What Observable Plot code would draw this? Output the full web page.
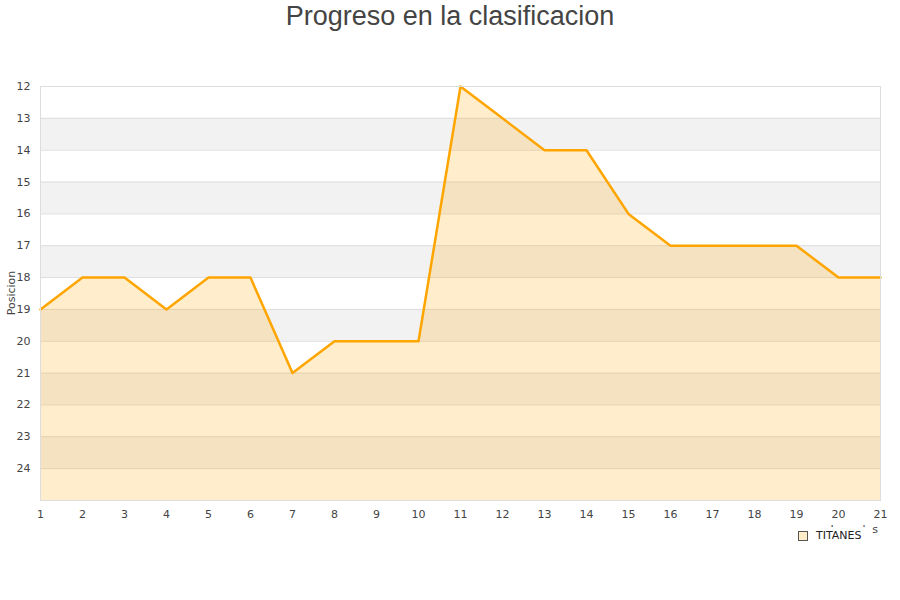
<!DOCTYPE html>
<html>
<head>
<meta charset="utf-8">
<script src="https://cdn.jsdelivr.net/npm/d3@7"></script>
<script src="https://cdn.jsdelivr.net/npm/@observablehq/plot@0.6"></script>
<style>
  html, body { margin: 0; padding: 0; background: #fff; }
  #wrap { position: relative; width: 900px; height: 600px; }
  #title { position: absolute; left: 0; top: 0; width: 900px; text-align: center;
    font-family: "Liberation Sans", Arial, sans-serif; font-size: 27px; color: #444; line-height: 32px; }
  #chart { position: absolute; left: 0; top: 40px; }
  .axis-title { position: absolute; font-family: "DejaVu Sans", sans-serif; font-size: 11px; color: #444; white-space: nowrap; }
  #ylabel { left: 11px; top: 293px; transform: translate(-50%, -50%) rotate(-90deg); }
  #xlabel { right: 22px; top: 523px; }
  #legend { position: absolute; left: 792px; top: 527px; background: #fff; padding: 2px 10px 2px 6px;
    font-family: "DejaVu Sans", sans-serif; font-size: 11px; color: #222; display: flex; align-items: center; }
  #legend .sw { width: 8px; height: 8px; border: 1px solid #555; background: #ffecc9; margin-right: 8px; }
</style>
</head>
<body>
<div id="wrap">
  <div id="title">Progreso en la clasificacion</div>
  <div id="chart"></div>
  <div class="axis-title" id="ylabel">Posicion</div>
  <div class="axis-title" id="xlabel">Jornadas</div>
  <div id="legend"><span class="sw"></span><span>TITANES</span></div>
</div>
<script>
// Jornada number and league position after each round
const jornadas = [1, 2, 3, 4, 5, 6, 7, 8, 9, 10, 11, 12, 13, 14, 15, 16, 17, 18, 19, 20, 21];
const posiciones = [19, 18, 18, 19, 18, 18, 21, 20, 20, 20, 12, 13, 14, 14, 16, 17, 17, 17, 17, 18, 18];
const yTicks = [12, 13, 14, 15, 16, 17, 18, 19, 20, 21, 22, 23, 24];
const equipo = "TITANES";

const data = jornadas.map((j, i) => ({jornada: j, posicion: posiciones[i], equipo}));
// shaded bands between alternate position ticks
const bandas = yTicks.filter(t => t % 2 === 1).map(t => ({y1: t, y2: t + 1}));

const chart = Plot.plot({
  width: 900,
  height: 560,
  marginTop: 46,
  marginBottom: 100,
  marginLeft: 40,
  marginRight: 20,
  style: {fontFamily: "DejaVu Sans, sans-serif", fontSize: "11px", color: "#444", background: "#fff"},
  x: {domain: [1, 21], ticks: jornadas, tickSize: 0, tickPadding: 10, label: null},
  y: {domain: [25, 12], ticks: yTicks, tickSize: 0, tickPadding: 10, label: null},
  marks: [
    Plot.rectY(bandas, {x1: 1, x2: 21, y1: "y1", y2: "y2", fill: "#f2f2f2"}),
    Plot.ruleY(yTicks, {stroke: "#dddddd", strokeWidth: 1}),
    Plot.areaY(data, {x: "jornada", y1: 25, y2: "posicion", fill: "#ffa500", fillOpacity: 0.2}),
    Plot.lineY(data, {x: "jornada", y: "posicion", stroke: "#ffa500", strokeWidth: 2.5}),
    Plot.frame({stroke: "#dddddd"})
  ]
});
document.getElementById("chart").appendChild(chart);
</script>
</body>
</html>
